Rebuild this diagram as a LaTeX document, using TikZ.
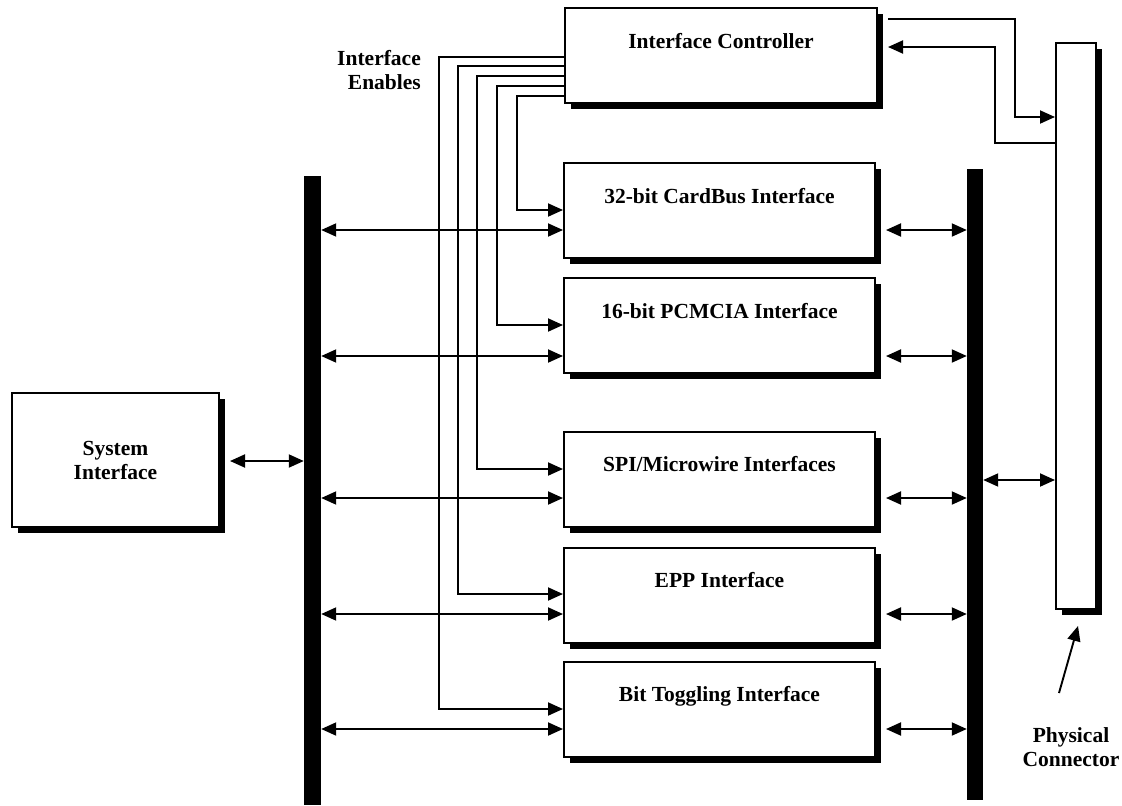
\documentclass[tikz,border=0pt]{standalone}
\usepackage{fontspec}
\setmainfont{Liberation Serif}
\usetikzlibrary{arrows.meta,shadows,calc}

\begin{document}
\begin{tikzpicture}[x=1pt,y=-1pt,
  font=\fontsize{21.5}{24}\selectfont\bfseries,
  box/.style={draw, line width=2pt, fill=white, inner sep=0pt,
    drop shadow={fill=black, opacity=1, shadow xshift=6pt, shadow yshift=-6pt}},
  unit/.style={box, minimum width=311pt, minimum height=95pt},
  bar/.style={fill=black, inner sep=0pt},
  lbl/.style={inner sep=0pt, anchor=base},
  tip/.tip={Triangle[length=15pt,width=13pt]},
  sig/.style={line width=1.9pt, -tip},
  dbl/.style={line width=1.9pt, tip-tip},
]
\useasboundingbox (0,0) rectangle (1122,806);

% buses
\node[bar, minimum width=17pt, minimum height=629pt] (lbus) at (312.5,490.5) {};
\node[bar, minimum width=16pt, minimum height=631pt] (rbus) at (975,484.5) {};

% blocks
\node[box, minimum width=312pt, minimum height=95pt] (ic) at (721,55.5) {};
\node[unit] (cb)  at (719.5,210.5) {};
\node[unit] (pcm) at (719.5,325.5) {};
\node[unit] (spi) at (719.5,479) {};
\node[unit] (epp) at (719.5,595) {};
\node[unit] (bt)  at (719.5,709) {};
\node[box, minimum width=207pt, minimum height=134pt, align=center] (si) at (115.5,460) {System\\Interface};
\node[box, minimum width=40pt, minimum height=566pt] (pc) at (1076,326) {};

% block titles
\node[lbl] (ict)  at ($(ic.north)+(0,41)$)  {Interface Controller};
\node[lbl] (cbt)  at ($(cb.north)+(0,41)$)  {32-bit CardBus Interface};
\node[lbl] (pcmt) at ($(pcm.north)+(0,41)$) {16-bit PCMCIA Interface};
\node[lbl] (spit) at ($(spi.north)+(0,41)$) {SPI/Microwire Interfaces};
\node[lbl] (eppt) at ($(epp.north)+(0,41)$) {EPP Interface};
\node[lbl] (btt)  at ($(bt.north)+(0,41)$)  {Bit Toggling Interface};

% free labels
\node[inner sep=0pt, align=right, anchor=east] (ien) at (421,69.6) {Interface\\Enables};
\node[inner sep=0pt, align=center] (pclbl) at (1071,747) {Physical\\Connector};

% interface enables from the controller
\draw[sig] (ic.west |- 0,96) -| (517,210) -- (cb.west |- 0,210);
\draw[sig] (ic.west |- 0,86) -| (497,325) -- (pcm.west |- 0,325);
\draw[sig] (ic.west |- 0,76) -| (477,469) -- (spi.west |- 0,469);
\draw[sig] (ic.west |- 0,66) -| (458,594) -- (epp.west |- 0,594);
\draw[sig] (ic.west |- 0,57) -| (439,709) -- (bt.west |- 0,709);

% bus connections
\foreach \b/\y in {cb/230, pcm/356, spi/498, epp/614, bt/729} {
  \draw[dbl] (lbus.east |- 0,\y) -- (\b.west |- 0,\y);
  \draw[dbl, shorten <=10pt] (\b.east |- 0,\y) -- (rbus.west |- 0,\y);
}
\draw[dbl, shorten <=10pt] (si.east |- 0,461) -- (lbus.west |- 0,461);
\draw[dbl] (rbus.east |- 0,480) -- (pc.west |- 0,480);

% controller <-> physical connector
\draw[sig, shorten <=10pt] (ic.east |- 0,19) -| (1015,117) -- (pc.west |- 0,117);
\draw[sig, shorten >=10pt] (pc.west |- 0,143) -| (995,47) -- (ic.east |- 0,47);

% pointer to the connector
\coordinate (pctail) at (1059,693);
\coordinate (pchead) at (1078,626);
\draw[sig] (pctail) -- (pchead);
\end{tikzpicture}
\end{document}
